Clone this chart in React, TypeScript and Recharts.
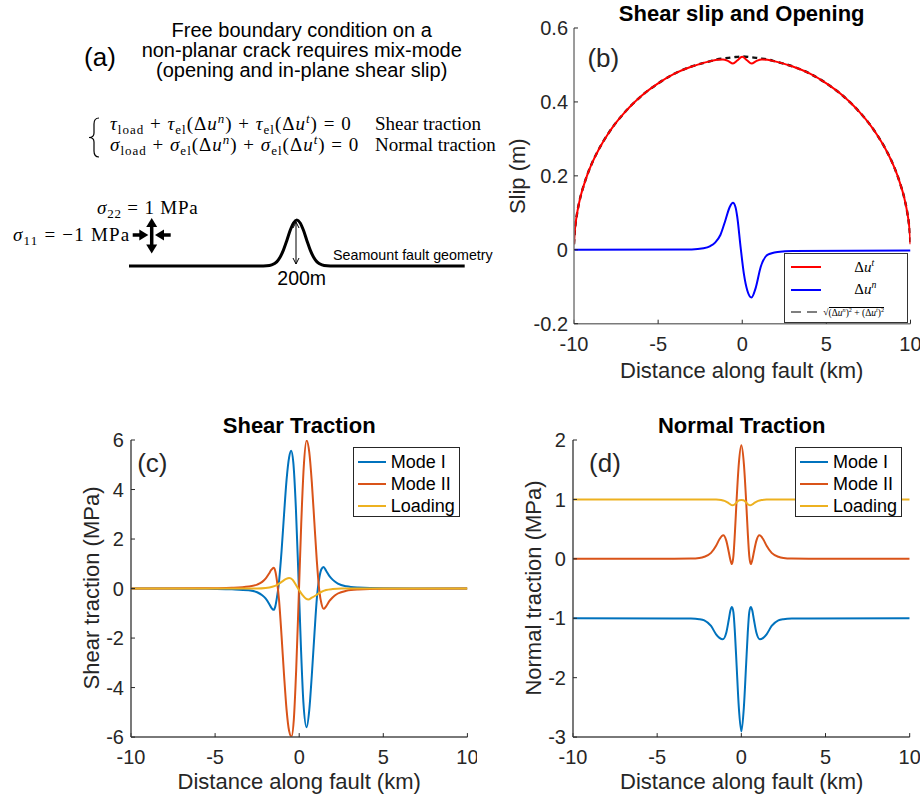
import React from 'react'
import { LineChart, Line, XAxis, YAxis, Legend } from 'recharts'

type Pt = [number, number]

const FONT = "'Liberation Sans', Arial, Helvetica, sans-serif"
const SERIF = "'Liberation Serif', 'Times New Roman', serif"
const AXIS = '#262626'

const X_TICKS = [-10, -5, 0, 5, 10]
const SLIP_TICKS = [-0.2, 0, 0.2, 0.4, 0.6]
const SHEAR_TICKS = [-6, -4, -2, 0, 2, 4, 6]
const NORMAL_TICKS = [-3, -2, -1, 0, 1, 2]

const MODE_NAMES = ['Mode I', 'Mode II', 'Loading']
const SLIP_NAMES = ['du_t', 'du_n', 'mag']

// (a) seamount fault geometry, height in m along the fault (km)
const SEAMOUNT: Pt[] = [
  [-10, 0], [-2.2, 0], [-1.8, 1], [-1.5, 5], [-1.2, 18], [-1, 38], [-0.8, 69], [-0.6, 110], [-0.4, 154], [-0.2, 187],
  [0, 200], [0.2, 187], [0.4, 154], [0.6, 110], [0.8, 69], [1, 38], [1.2, 18], [1.5, 5], [1.8, 1], [2.2, 0], [10, 0],
]

// (b) slip (m)
const SLIP_T: Pt[] = [
  [-10, 0.015], [-9.95, 0.052], [-9.9, 0.073], [-9.8, 0.103], [-9.6, 0.146], [-9.4, 0.177], [-9.2, 0.204], [-9, 0.227],
  [-8.5, 0.274], [-8, 0.312], [-7.5, 0.344], [-7, 0.371], [-6.5, 0.395], [-6, 0.416], [-5, 0.45], [-4, 0.477], [-3, 0.496],
  [-2.5, 0.503], [-2, 0.509], [-1.5, 0.514], [-1.15, 0.515], [-0.85, 0.511], [-0.55, 0.504], [-0.3, 0.512], [0, 0.522],
  [0.3, 0.512], [0.55, 0.504], [0.85, 0.511], [1.15, 0.515], [1.5, 0.514], [2, 0.509], [2.5, 0.503], [3, 0.496], [4, 0.477],
  [5, 0.45], [6, 0.416], [6.5, 0.395], [7, 0.371], [7.5, 0.344], [8, 0.312], [8.5, 0.274], [9, 0.227], [9.2, 0.204],
  [9.4, 0.177], [9.6, 0.146], [9.8, 0.103], [9.9, 0.073], [9.95, 0.052], [10, 0.015],
]
const SLIP_N: Pt[] = [
  [-10, 0], [-3, 0.001], [-2.3, 0.004], [-1.9, 0.01], [-1.6, 0.02], [-1.3, 0.04], [-1, 0.08], [-0.75, 0.115], [-0.55, 0.127],
  [-0.4, 0.115], [-0.3, 0.09], [-0.1, 0.008], [0.1, -0.066], [0.3, -0.11], [0.55, -0.129], [0.8, -0.103], [1.1, -0.046],
  [1.5, -0.014], [2.1, -0.006], [3, -0.003], [10, -0.002],
]
const SLIP_MAG: Pt[] = [
  [-10, 0.015], [-9.95, 0.052], [-9.9, 0.073], [-9.8, 0.103], [-9.6, 0.146], [-9.4, 0.177], [-9.2, 0.204], [-9, 0.227],
  [-8.5, 0.274], [-8, 0.312], [-7.5, 0.344], [-7, 0.371], [-6.5, 0.395], [-6, 0.416], [-5, 0.45], [-4, 0.477], [-3, 0.496],
  [-2.5, 0.503], [-2, 0.509], [-1.5, 0.515], [-1, 0.518], [-0.5, 0.521], [0, 0.523], [0.5, 0.521], [1, 0.518], [1.5, 0.515],
  [2, 0.509], [2.5, 0.503], [3, 0.496], [4, 0.477], [5, 0.45], [6, 0.416], [6.5, 0.395], [7, 0.371], [7.5, 0.344], [8, 0.312],
  [8.5, 0.274], [9, 0.227], [9.2, 0.204], [9.4, 0.177], [9.6, 0.146], [9.8, 0.103], [9.9, 0.073], [9.95, 0.052], [10, 0.015],
]

// (c) shear traction (MPa)
const SHEAR_MODE1: Pt[] = [
  [-10, 0], [-6, -0.01], [-5, -0.015], [-4, -0.03], [-3, -0.07], [-2.5, -0.15], [-2.2, -0.27], [-2, -0.4], [-1.8, -0.6],
  [-1.65, -0.78], [-1.52, -0.86], [-1.42, -0.72], [-1.32, -0.35], [-1.22, 0.15], [-1.05, 1.5], [-0.9, 3], [-0.75, 4.4],
  [-0.6, 5.3], [-0.48, 5.57], [-0.35, 5.1], [-0.2, 3.3], [-0.05, 0.6], [0.1, -2.3], [0.25, -4.6], [0.44, -5.6], [0.6, -4.9],
  [0.75, -3.5], [0.9, -1.9], [1.05, -0.4], [1.2, 0.45], [1.32, 0.78], [1.45, 0.87], [1.6, 0.72], [1.8, 0.5], [2, 0.35],
  [2.3, 0.2], [2.8, 0.09], [3.5, 0.04], [5, 0.01], [10, 0],
]
const SHEAR_MODE2: Pt[] = [
  [-10, 0], [-6, 0.01], [-5, 0.015], [-4, 0.03], [-3, 0.08], [-2.5, 0.16], [-2.2, 0.27], [-2, 0.4], [-1.8, 0.6],
  [-1.65, 0.76], [-1.52, 0.84], [-1.42, 0.7], [-1.32, 0.3], [-1.2, -0.45], [-1.05, -1.9], [-0.9, -3.5], [-0.75, -4.9],
  [-0.6, -5.75], [-0.46, -5.98], [-0.32, -5.3], [-0.18, -3.3], [-0.03, -0.4], [0.12, 2.6], [0.27, 4.9], [0.44, 5.98],
  [0.6, 5.5], [0.75, 4.3], [0.9, 2.7], [1.05, 1.1], [1.2, -0.1], [1.32, -0.6], [1.45, -0.82], [1.6, -0.72], [1.8, -0.5],
  [2, -0.35], [2.3, -0.2], [2.8, -0.09], [3.5, -0.04], [5, -0.01], [10, 0],
]
const SHEAR_LOAD: Pt[] = [
  [-10, 0], [-2.5, 0], [-2, 0.02], [-1.6, 0.07], [-1.3, 0.15], [-1, 0.29], [-0.8, 0.38], [-0.6, 0.43], [-0.4, 0.36],
  [-0.2, 0.15], [0, -0.07], [0.2, -0.27], [0.4, -0.41], [0.55, -0.44], [0.75, -0.37], [1, -0.27], [1.3, -0.14],
  [1.6, -0.06], [2, -0.02], [2.5, 0], [10, 0],
]

// (d) normal traction (MPa)
const NORMAL_MODE1: Pt[] = [
  [-10, -1], [-4, -1.002], [-3, -1.005], [-2.5, -1.015], [-2.2, -1.035], [-1.8, -1.13], [-1.5, -1.27], [-1.3, -1.33],
  [-1.1, -1.355], [-0.9, -1.25], [-0.75, -1.03], [-0.65, -0.87], [-0.56, -0.81], [-0.47, -0.9], [-0.38, -1.25],
  [-0.28, -1.8], [-0.15, -2.5], [0, -2.905], [0.15, -2.5], [0.28, -1.8], [0.38, -1.25], [0.47, -0.9], [0.56, -0.81],
  [0.65, -0.87], [0.75, -1.03], [0.9, -1.25], [1.1, -1.355], [1.3, -1.33], [1.5, -1.27], [1.8, -1.13], [2.2, -1.035],
  [2.5, -1.015], [3, -1.005], [4, -1.002], [10, -1],
]
const NORMAL_MODE2: Pt[] = [
  [-10, 0], [-4, 0.002], [-3, 0.005], [-2.5, 0.015], [-2.2, 0.035], [-1.8, 0.1], [-1.5, 0.22], [-1.3, 0.33],
  [-1.07, 0.395], [-0.9, 0.31], [-0.75, 0.12], [-0.65, -0.02], [-0.56, -0.088], [-0.47, 0.05], [-0.38, 0.45],
  [-0.28, 1], [-0.15, 1.6], [0, 1.91], [0.15, 1.6], [0.28, 1], [0.38, 0.45], [0.47, 0.05], [0.56, -0.088], [0.65, -0.02],
  [0.75, 0.12], [0.9, 0.31], [1.07, 0.395], [1.3, 0.33], [1.5, 0.22], [1.8, 0.1], [2.2, 0.035], [2.5, 0.015], [3, 0.005],
  [4, 0.002], [10, 0],
]
const NORMAL_LOAD: Pt[] = [
  [-10, 1], [-2, 1], [-1.5, 0.998], [-1.2, 0.99], [-1, 0.975], [-0.8, 0.945], [-0.65, 0.915], [-0.54, 0.9], [-0.4, 0.915],
  [-0.25, 0.96], [-0.12, 0.985], [0, 0.99], [0.12, 0.985], [0.25, 0.96], [0.4, 0.915], [0.54, 0.9], [0.65, 0.915],
  [0.8, 0.945], [1, 0.975], [1.2, 0.99], [1.5, 0.998], [2, 1], [10, 1],
]

const rows = (pts: Pt[]) => pts.map(([x, y]) => ({ x, y }))

const tickStyle = { fontSize: 20, fill: AXIS, fontFamily: FONT }

// MATLAB-like box: inward ticks on all four sides
function frame(yDomain: [number, number], yTicks: number[], fmt: (v: number) => string, box: string, yMargin: number) {
  const line = { stroke: box, strokeWidth: 1.5 }
  const tl = { stroke: AXIS, strokeWidth: 1 }
  const blank = () => ''
  return [
    <XAxis key="xb" dataKey="x" type="number" domain={[-10, 10]} ticks={X_TICKS} allowDataOverflow interval={0}
      height={30} tickSize={-4} tickMargin={17} axisLine={line} tickLine={tl} tick={tickStyle} />,
    <XAxis key="xt" xAxisId="t" orientation="top" type="number" domain={[-10, 10]} ticks={X_TICKS} allowDataOverflow
      interval={0} height={0} tickSize={-4} axisLine={line} tickLine={tl} tickFormatter={blank} />,
    <YAxis key="yl" type="number" domain={yDomain} ticks={yTicks} allowDataOverflow interval={0} width={50}
      tickSize={-4} tickMargin={yMargin} axisLine={line} tickLine={tl} tick={tickStyle} tickFormatter={fmt} />,
    <YAxis key="yr" yAxisId="r" orientation="right" type="number" domain={yDomain} ticks={yTicks} allowDataOverflow
      interval={0} width={0} tickSize={-4} axisLine={line} tickLine={tl} tickFormatter={blank} />,
  ]
}

const MARGIN = { top: 10, right: 10, bottom: 0, left: 0 }

// keep legend entries in the figure's order
const ordered = (payload: any[] | undefined, names: string[]) =>
  [...(payload || [])].sort((a, b) => names.indexOf(a.value) - names.indexOf(b.value))

const modeLegend = (props: any) => (
  <div style={{ width: 107, height: 70, boxSizing: 'border-box', border: '1px solid #262626', background: '#fff', paddingTop: 3 }}>
    {ordered(props.payload, MODE_NAMES).map((p: any) => (
      <div key={p.value} style={{ display: 'flex', alignItems: 'center', height: 22 }}>
        <span style={{ width: 28, borderTop: `2px solid ${p.color}`, marginLeft: 4, marginRight: 5 }} />
        <span style={{ fontSize: 18, lineHeight: '22px', color: '#000', fontFamily: FONT }}>{p.value}</span>
      </div>
    ))}
  </div>
)

const sup = (s: string) => (
  <span style={{ fontSize: '0.65em', fontStyle: 'italic', position: 'relative', top: '-0.6em' }}>{s}</span>
)

const slipLegend = (props: any) => {
  const items = ordered(props.payload, SLIP_NAMES)
  return (
    <div style={{ width: 124, height: 70, boxSizing: 'border-box', border: '1px solid #333', background: '#fff', paddingTop: 1.5, fontFamily: SERIF }}>
      {items.map((p: any, i: number) => (
        <div key={i} style={{ display: 'flex', alignItems: 'center', height: 22.5 }}>
          {i < 2 ? (
            <span style={{ width: 30, borderTop: `2px solid ${p.color}`, marginLeft: 6 }} />
          ) : (
            <svg width={30} height={4} style={{ marginLeft: 6 }}>
              <line x1={0} y1={2} x2={30} y2={2} stroke="#555" strokeWidth={1.6} strokeDasharray="10 6" />
            </svg>
          )}
          {i < 2 ? (
            <span style={{ marginLeft: 33, fontSize: 15, color: '#000', whiteSpace: 'nowrap' }}>
              Δ<i>u</i>{sup(i === 0 ? 't' : 'n')}
            </span>
          ) : (
            <span style={{ marginLeft: 2, fontSize: 9.5, color: '#000', whiteSpace: 'nowrap' }}>
              √<span style={{ borderTop: '1px solid #000' }}>(Δ<i>u</i>{sup('n')})<sup style={{ fontSize: '0.65em' }}>2</sup> + (Δ<i>u</i>{sup('t')})<sup style={{ fontSize: '0.65em' }}>2</sup></span>
            </span>
          )}
        </div>
      ))}
    </div>
  )
}

const C1 = '#0072BD'
const C2 = '#D95319'
const C3 = '#EDB120'

function Txt(p: { x: number; y: number; size: number; bold?: boolean; rot?: boolean; fill?: string; children: React.ReactNode }) {
  return (
    <text
      x={p.rot ? 0 : p.x}
      y={p.rot ? 0 : p.y}
      transform={p.rot ? `translate(${p.x},${p.y}) rotate(-90)` : undefined}
      textAnchor="middle"
      dominantBaseline="central"
      fontFamily={FONT}
      fontSize={p.size}
      fontWeight={p.bold ? 'bold' : 'normal'}
      fill={p.fill || '#000'}
    >
      {p.children}
    </text>
  )
}

function Eq({ y, sym }: { y: number; sym: string }) {
  return (
    <text x={110} y={y} fontFamily={SERIF} fontSize={19} letterSpacing={1} fill="#000" style={{ whiteSpace: 'pre' }}>
      <tspan fontStyle="italic">{sym}</tspan>
      <tspan fontSize={13} dy={4}>load</tspan>
      <tspan dy={-4}>{' + '}</tspan>
      <tspan fontStyle="italic">{sym}</tspan>
      <tspan fontSize={13} dy={4}>el</tspan>
      <tspan dy={-4}>(Δ</tspan>
      <tspan fontStyle="italic">u</tspan>
      <tspan fontSize={13} fontStyle="italic" dy={-7}>n</tspan>
      <tspan dy={7}>{') + '}</tspan>
      <tspan fontStyle="italic">{sym}</tspan>
      <tspan fontSize={13} dy={4}>el</tspan>
      <tspan dy={-4}>(Δ</tspan>
      <tspan fontStyle="italic">u</tspan>
      <tspan fontSize={13} fontStyle="italic" dy={-7}>t</tspan>
      <tspan dy={7}>{') = 0'}</tspan>
    </text>
  )
}

const lineProps = { type: 'monotone' as const, dot: false, activeDot: false, isAnimationActive: false }

export default function App() {
  return (
    <div style={{ position: 'absolute', left: 0, top: 0, width: 921, height: 799, background: '#fff', overflow: 'hidden', fontFamily: FONT }}>
      {/* (a) fault geometry */}
      <div style={{ position: 'absolute', left: 129.3, top: 215 }}>
        <LineChart width={335.7} height={56} margin={{ top: 5, right: 0, bottom: 5, left: 0 }}>
          <XAxis dataKey="x" type="number" domain={[-10, 10]} hide />
          <YAxis type="number" domain={[0, 200]} hide />
          <Line data={rows(SEAMOUNT)} dataKey="y" stroke="#000" strokeWidth={3} {...lineProps} />
        </LineChart>
      </div>

      {/* (b) slip */}
      <div style={{ position: 'absolute', left: 523.5, top: 18.3 }}>
        <LineChart width={396.5} height={335.7} margin={MARGIN}>
          {frame([-0.2, 0.6], SLIP_TICKS, (v) => (v === 0 ? '0' : v.toFixed(1)), '#7a7a7a', 10)}
          <Line data={rows(SLIP_MAG)} dataKey="y" name="mag" stroke="#111" strokeWidth={2.4} strokeDasharray="5 4" {...lineProps} />
          <Line data={rows(SLIP_T)} dataKey="y" name="du_t" stroke="#FF0000" strokeWidth={2} {...lineProps} />
          <Line data={rows(SLIP_N)} dataKey="y" name="du_n" stroke="#0000FF" strokeWidth={2} {...lineProps} />
          <Legend layout="vertical" align="center" verticalAlign="middle" content={slipLegend} wrapperStyle={{ left: 260.8, top: 235 }} />
        </LineChart>
      </div>

      {/* (c) shear traction */}
      <div style={{ position: 'absolute', left: 81, top: 429.6 }}>
        <LineChart width={396.4} height={337.1} margin={MARGIN}>
          {frame([-6, 6], SHEAR_TICKS, (v) => String(v), '#4d4d4d', 11)}
          <Line data={rows(SHEAR_MODE1)} dataKey="y" name="Mode I" stroke={C1} strokeWidth={2} {...lineProps} />
          <Line data={rows(SHEAR_MODE2)} dataKey="y" name="Mode II" stroke={C2} strokeWidth={2} {...lineProps} />
          <Line data={rows(SHEAR_LOAD)} dataKey="y" name="Loading" stroke={C3} strokeWidth={2} {...lineProps} />
          <Legend layout="vertical" align="center" verticalAlign="middle" content={modeLegend} wrapperStyle={{ left: 271.7, top: 17.7 }} />
        </LineChart>
      </div>

      {/* (d) normal traction */}
      <div style={{ position: 'absolute', left: 523.3, top: 429.6 }}>
        <LineChart width={396.7} height={337.1} margin={MARGIN}>
          {frame([-3, 2], NORMAL_TICKS, (v) => String(v), '#4d4d4d', 11)}
          <Line data={rows(NORMAL_MODE1)} dataKey="y" name="Mode I" stroke={C1} strokeWidth={2} {...lineProps} />
          <Line data={rows(NORMAL_MODE2)} dataKey="y" name="Mode II" stroke={C2} strokeWidth={2} {...lineProps} />
          <Line data={rows(NORMAL_LOAD)} dataKey="y" name="Loading" stroke={C3} strokeWidth={2} {...lineProps} />
          <Legend layout="vertical" align="center" verticalAlign="middle" content={modeLegend} wrapperStyle={{ left: 271.7, top: 17.7 }} />
        </LineChart>
      </div>

      {/* titles, labels and the sketch of panel (a) */}
      <svg width={921} height={799} style={{ position: 'absolute', left: 0, top: 0, pointerEvents: 'none' }}>
        <Txt x={301.7} y={30} size={20}>Free boundary condition on a</Txt>
        <Txt x={301.7} y={50} size={20}>non-planar crack requires mix-mode</Txt>
        <Txt x={301.7} y={69.5} size={20}>(opening and in-plane shear slip)</Txt>
        <Txt x={100} y={56.7} size={26}>(a)</Txt>

        <path d="M99,118 Q94,118 94,124 L94,133 Q94,137.5 89,137.5 Q94,137.5 94,142 L94,151 Q94,157 99,157" fill="none" stroke="#000" strokeWidth={1.2} />
        <Eq y={130} sym="τ" />
        <Eq y={151} sym="σ" />
        <text x={375} y={130} fontFamily={SERIF} fontSize={19}>Shear traction</text>
        <text x={375} y={151} fontFamily={SERIF} fontSize={19}>Normal traction</text>

        <text x={97} y={214} fontFamily={SERIF} fontSize={19} letterSpacing={0.8} style={{ whiteSpace: 'pre' }}>
          <tspan fontStyle="italic">σ</tspan>
          <tspan fontSize={13} dy={4}>22</tspan>
          <tspan dy={-4}>{' = 1 MPa'}</tspan>
        </text>
        <text x={13} y={241} fontFamily={SERIF} fontSize={19} letterSpacing={1.2} style={{ whiteSpace: 'pre' }}>
          <tspan fontStyle="italic">σ</tspan>
          <tspan fontSize={13} dy={4}>11</tspan>
          <tspan dy={-4}>{' = −1 MPa'}</tspan>
        </text>

        {/* stress cross */}
        <line x1={151.7} y1={224} x2={151.7} y2={247} stroke="#000" strokeWidth={3.5} />
        <polygon points="151.7,218 146.2,227 157.2,227" fill="#000" />
        <polygon points="151.7,253.5 146.2,244.5 157.2,244.5" fill="#000" />
        <line x1={132.7} y1={235} x2={141} y2={235} stroke="#000" strokeWidth={3.5} />
        <polygon points="148.3,235 139.3,229.5 139.3,240.5" fill="#000" />
        <line x1={170.7} y1={235} x2={162} y2={235} stroke="#000" strokeWidth={3.5} />
        <polygon points="155,235 164,229.5 164,240.5" fill="#000" />

        {/* 200 m arrow */}
        <line x1={296} y1={222} x2={296} y2={264} stroke="#000" strokeWidth={1} />
        <polyline points="293,228 296,222 299,228" fill="none" stroke="#000" strokeWidth={1} />
        <polyline points="293,258 296,264 299,258" fill="none" stroke="#000" strokeWidth={1} />
        <Txt x={301.7} y={278.3} size={19.5}>200m</Txt>
        <text x={333} y={255} dominantBaseline="central" fontFamily={FONT} fontSize={14.3}>Seamount fault geometry</text>

        <Txt x={741.7} y={13} size={22} bold>Shear slip and Opening</Txt>
        <Txt x={741.7} y={370} size={22} fill={AXIS}>Distance along fault (km)</Txt>
        <Txt x={517.3} y={176.2} size={22} rot fill={AXIS}>Slip (m)</Txt>
        <Txt x={603.3} y={57.5} size={26} fill={AXIS}>(b)</Txt>

        <Txt x={299.2} y={425} size={22} bold>Shear Traction</Txt>
        <Txt x={299.2} y={781.7} size={22} fill={AXIS}>Distance along fault (km)</Txt>
        <Txt x={91.7} y={588} size={22} rot fill={AXIS}>Shear traction (MPa)</Txt>
        <Txt x={152.3} y={462.5} size={26} fill={AXIS}>(c)</Txt>

        <Txt x={741.7} y={425} size={22} bold>Normal Traction</Txt>
        <Txt x={741.7} y={781.7} size={22} fill={AXIS}>Distance along fault (km)</Txt>
        <Txt x={533.3} y={588} size={22} rot fill={AXIS}>Normal traction (MPa)</Txt>
        <Txt x={605} y={462.5} size={26} fill={AXIS}>(d)</Txt>
      </svg>
    </div>
  )
}
